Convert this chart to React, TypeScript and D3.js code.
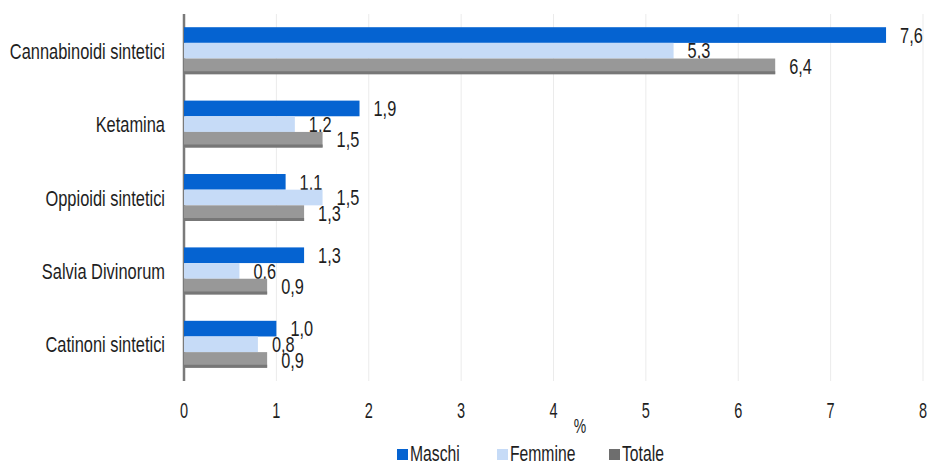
import React from "react";
import * as d3 from "d3";

const categories = ["Cannabinoidi sintetici", "Ketamina", "Oppioidi sintetici", "Salvia Divinorum", "Catinoni sintetici"];
const seriesNames = ["Maschi", "Femmine", "Totale"];
const maschi = [7.6, 1.9, 1.1, 1.3, 1.0];
const femmine = [5.3, 1.2, 1.5, 0.6, 0.8];
const totale = [6.4, 1.5, 1.3, 0.9, 0.9];
const xTicks = [0, 1, 2, 3, 4, 5, 6, 7, 8];

const colors = ["#0563d1", "#c6dbf7", "#989898"];
const legendColors = ["#0563d1", "#c6dbf7", "#6e6e6e"];
const FONT = "'Liberation Sans Narrow', 'Arial Narrow', 'Liberation Sans', sans-serif";

function Txt(props: { x: number; y: number; size: number; anchor?: string; sx?: number; children: React.ReactNode }) {
  const sx = props.sx ?? 0.8;
  return (
    <text
      transform={`translate(${props.x},${props.y}) scale(${sx},1)`}
      dy="0.36em"
      textAnchor={props.anchor ?? "start"}
      fontSize={props.size}
      fontFamily={FONT}
      fill="#1e1e1e"
    >
      {props.children}
    </text>
  );
}

export default function App() {
  const W = 930, H = 464;
  const x = d3.scaleLinear().domain([0, 8]).range([184, 923]);
  const y = d3.scaleBand<string>().domain(categories).range([14, 381]).paddingInner(0.36).paddingOuter(0.18);
  const inner = d3.scaleBand<string>().domain(seriesNames).range([0, y.bandwidth()]);
  const data = [maschi, femmine, totale];
  const fmt = (v: number) => v.toFixed(1).replace(".", ",");

  return (
    <svg width={W} height={H} style={{ position: "absolute", left: 0, top: 0, background: "#fff" }}>
      {xTicks.slice(1).map((t) => (
        <line key={"g" + t} x1={x(t)} x2={x(t)} y1={14} y2={381} stroke="#ebebeb" strokeWidth={1} />
      ))}
      <line x1={x(0)} x2={x(0)} y1={14} y2={381} stroke="#7a7a7a" strokeWidth={2.5} />
      {categories.map((c, i) => (
        <g key={c}>
          {seriesNames.map((s, k) => {
            const v = data[k][i];
            const y0 = (y(c) as number) + (inner(s) as number);
            const h = inner.bandwidth();
            return (
              <g key={s}>
                <rect x={x(0)} y={y0} width={x(v) - x(0)} height={h} fill={colors[k]} />
                {k === 2 && (
                  <line x1={x(0)} x2={x(v)} y1={y0 + h - 1.5} y2={y0 + h - 1.5} stroke="#777" strokeWidth={3} />
                )}
                <Txt x={x(v) + 14} y={y0 + h / 2} size={21.5} sx={0.76}>{fmt(v)}</Txt>
              </g>
            );
          })}
          <Txt x={165} y={(y(c) as number) + y.bandwidth() / 2} size={22.5} anchor="end" sx={0.73}>{c}</Txt>
        </g>
      ))}
      {xTicks.map((t) => (
        <Txt key={"t" + t} x={x(t)} y={410} size={22} anchor="middle" sx={0.66}>{t}</Txt>
      ))}
      <Txt x={580} y={426} size={20} anchor="middle" sx={0.7}>%</Txt>
      {[
        { x: 397, label: "Maschi" },
        { x: 497, label: "Femmine" },
        { x: 609, label: "Totale" },
      ].map((l, k) => (
        <g key={l.label}>
          <rect x={l.x} y={449} width={11} height={11} fill={legendColors[k]} />
          <Txt x={l.x + 13} y={453} size={21.5} sx={0.73}>{l.label}</Txt>
        </g>
      ))}
    </svg>
  );
}
